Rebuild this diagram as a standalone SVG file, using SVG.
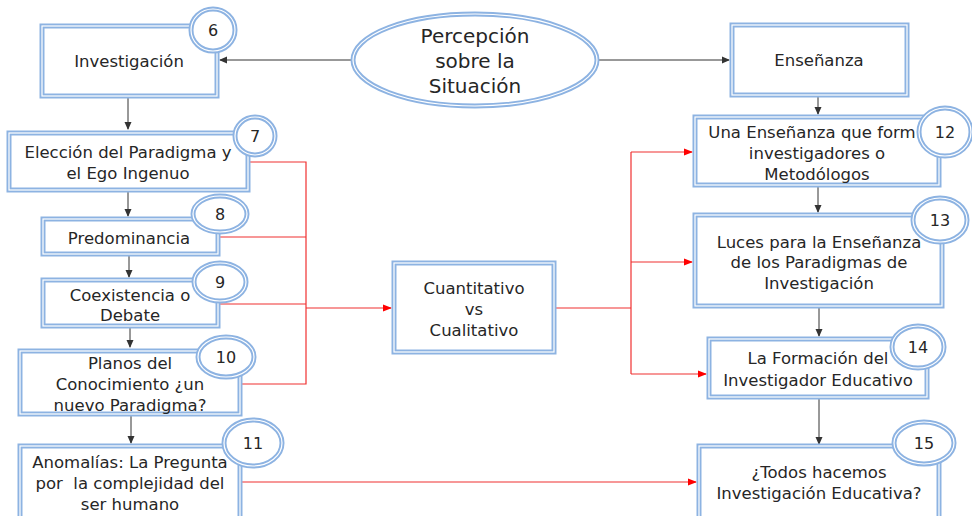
<svg xmlns="http://www.w3.org/2000/svg" width="972" height="516" viewBox="0 0 972 516">
<style>
.b{fill:#fff;stroke:#8db3e2;stroke-width:5}
.w{fill:none;stroke:#fff;stroke-width:1.2}
.t{font-family:"DejaVu Sans",sans-serif;font-size:16.5px;fill:#262626;text-anchor:middle}
.n{font-family:"DejaVu Sans",sans-serif;font-size:16px;fill:#262626;text-anchor:middle}
.k{fill:none;stroke:#333;stroke-width:1}
.r{fill:none;stroke:#f03030;stroke-width:1.2}
</style>
<defs>
<marker id="ak" markerWidth="8" markerHeight="8" refX="7" refY="4" orient="auto" markerUnits="userSpaceOnUse"><path d="M0,0.5 L8,4 L0,7.5 Z" fill="#333"/></marker>
<marker id="ar" markerWidth="9" markerHeight="8" refX="8" refY="4" orient="auto" markerUnits="userSpaceOnUse"><path d="M0,0.5 L9,4 L0,7.5 Z" fill="#f00"/></marker>
</defs>
<g id="connectors">
<path class="k" d="M352,60 H220" marker-end="url(#ak)"/>
<path class="k" d="M598,60 H729" marker-end="url(#ak)"/>
<path class="k" d="M128,97 V129" marker-end="url(#ak)"/>
<path class="k" d="M128,191 V216" marker-end="url(#ak)"/>
<path class="k" d="M129,256 V277" marker-end="url(#ak)"/>
<path class="k" d="M130,328 V347" marker-end="url(#ak)"/>
<path class="k" d="M131,416 V443" marker-end="url(#ak)"/>
<path class="k" d="M818,97 V114" marker-end="url(#ak)"/>
<path class="k" d="M818,187 V212" marker-end="url(#ak)"/>
<path class="k" d="M819,308 V336" marker-end="url(#ak)"/>
<path class="k" d="M819,398 V444" marker-end="url(#ak)"/>
<path class="r" d="M249,162 H306 V384 H240"/>
<path class="r" d="M218,237 H306"/>
<path class="r" d="M218,304 H306"/>
<path class="r" d="M306,308 H391" marker-end="url(#ar)"/>
<path class="r" d="M554,308 H631"/>
<path class="r" d="M631,152 V374"/>
<path class="r" d="M631,152 H692" marker-end="url(#ar)"/>
<path class="r" d="M631,262 H692" marker-end="url(#ar)"/>
<path class="r" d="M631,374 H706" marker-end="url(#ar)"/>
<path class="r" d="M240,482 H696" marker-end="url(#ar)"/>
</g>
<g id="percepcion">
<ellipse class="b" cx="475" cy="60" rx="122" ry="46"/><ellipse class="w" cx="475" cy="60" rx="122" ry="46"/>
<text class="t" style="font-size:20px" x="475"><tspan x="475" y="43">Percepción</tspan><tspan x="475" y="68">sobre la</tspan><tspan x="475" y="93">Situación</tspan></text>
</g>
<g id="investigacion">
<rect class="b" x="42" y="26" width="175" height="70"/><rect class="w" x="42" y="26" width="175" height="70"/>
<text class="t" x="129" y="67">Investigación</text>
<ellipse class="b" cx="213" cy="30" rx="22" ry="21"/><ellipse class="w" cx="213" cy="30" rx="22" ry="21"/>
<text class="n" x="213" y="36">6</text>
</g>
<g id="eleccion">
<rect class="b" x="9" y="133" width="239" height="57"/><rect class="w" x="9" y="133" width="239" height="57"/>
<text class="t"><tspan x="128" y="158">Elección del Paradigma y</tspan><tspan x="128" y="179">el Ego Ingenuo</tspan></text>
<ellipse class="b" cx="255" cy="136" rx="20" ry="19"/><ellipse class="w" cx="255" cy="136" rx="20" ry="19"/>
<text class="n" x="255" y="142">7</text>
</g>
<g id="predominancia">
<rect class="b" x="43" y="219" width="175" height="35"/><rect class="w" x="43" y="219" width="175" height="35"/>
<text class="t" x="129" y="244">Predominancia</text>
<ellipse class="b" cx="220" cy="214" rx="27" ry="18"/><ellipse class="w" cx="220" cy="214" rx="27" ry="18"/>
<text class="n" x="220" y="220">8</text>
</g>
<g id="coexistencia">
<rect class="b" x="43" y="280" width="175" height="46"/><rect class="w" x="43" y="280" width="175" height="46"/>
<text class="t"><tspan x="130" y="301">Coexistencia o</tspan><tspan x="130" y="321">Debate</tspan></text>
<ellipse class="b" cx="220" cy="282" rx="26" ry="19"/><ellipse class="w" cx="220" cy="282" rx="26" ry="19"/>
<text class="n" x="220" y="288">9</text>
</g>
<g id="planos">
<rect class="b" x="20" y="351" width="220" height="63"/><rect class="w" x="20" y="351" width="220" height="63"/>
<text class="t"><tspan x="130" y="369">Planos del</tspan><tspan x="130" y="390">Conocimiento ¿un</tspan><tspan x="130" y="411">nuevo Paradigma?</tspan></text>
<ellipse class="b" cx="226" cy="357" rx="28" ry="20"/><ellipse class="w" cx="226" cy="357" rx="28" ry="20"/>
<text class="n" x="226" y="363">10</text>
</g>
<g id="anomalias">
<rect class="b" x="20" y="446" width="220" height="74"/><rect class="w" x="20" y="446" width="220" height="74"/>
<text class="t" style="white-space:pre"><tspan x="130" y="468">Anomalías: La Pregunta</tspan><tspan x="130" y="489">por  la complejidad del</tspan><tspan x="130" y="510">ser humano</tspan></text>
<ellipse class="b" cx="253" cy="443" rx="29" ry="23"/><ellipse class="w" cx="253" cy="443" rx="29" ry="23"/>
<text class="n" x="253" y="449">11</text>
</g>
<g id="cuantitativo">
<rect class="b" x="394" y="263" width="160" height="89"/><rect class="w" x="394" y="263" width="160" height="89"/>
<text class="t"><tspan x="474" y="294">Cuantitativo</tspan><tspan x="474" y="315">vs</tspan><tspan x="474" y="336">Cualitativo</tspan></text>
</g>
<g id="ensenanza">
<rect class="b" x="732" y="25" width="175" height="70"/><rect class="w" x="732" y="25" width="175" height="70"/>
<text class="t" x="819" y="66">Enseñanza</text>
</g>
<g id="forma">
<rect class="b" x="695" y="117" width="244" height="68"/><rect class="w" x="695" y="117" width="244" height="68"/>
<text class="t"><tspan x="812" y="138">Una Enseñanza que form</tspan><tspan x="817" y="159">investigadores o</tspan><tspan x="817" y="180">Metodólogos</tspan></text>
<ellipse class="b" cx="945" cy="132" rx="26" ry="24"/><ellipse class="w" cx="945" cy="132" rx="26" ry="24"/>
<text class="n" x="945" y="138">12</text>
</g>
<g id="luces">
<rect class="b" x="695" y="215" width="247" height="91"/><rect class="w" x="695" y="215" width="247" height="91"/>
<text class="t"><tspan x="819" y="248">Luces para la Enseñanza</tspan><tspan x="819" y="268">de los Paradigmas de</tspan><tspan x="819" y="289">Investigación</tspan></text>
<ellipse class="b" cx="940" cy="220" rx="27" ry="22"/><ellipse class="w" cx="940" cy="220" rx="27" ry="22"/>
<text class="n" x="940" y="226">13</text>
</g>
<g id="formacion">
<rect class="b" x="709" y="339" width="218" height="58"/><rect class="w" x="709" y="339" width="218" height="58"/>
<text class="t"><tspan x="818" y="364">La Formación del</tspan><tspan x="818" y="386">Investigador Educativo</tspan></text>
<ellipse class="b" cx="918" cy="347" rx="26" ry="21"/><ellipse class="w" cx="918" cy="347" rx="26" ry="21"/>
<text class="n" x="918" y="353">14</text>
</g>
<g id="todos">
<rect class="b" x="699" y="446" width="240" height="74"/><rect class="w" x="699" y="446" width="240" height="74"/>
<text class="t"><tspan x="819" y="478">¿Todos hacemos</tspan><tspan x="819" y="499">Investigación Educativa?</tspan></text>
<ellipse class="b" cx="924" cy="443" rx="30" ry="21"/><ellipse class="w" cx="924" cy="443" rx="30" ry="21"/>
<text class="n" x="924" y="449">15</text>
</g>
</svg>
